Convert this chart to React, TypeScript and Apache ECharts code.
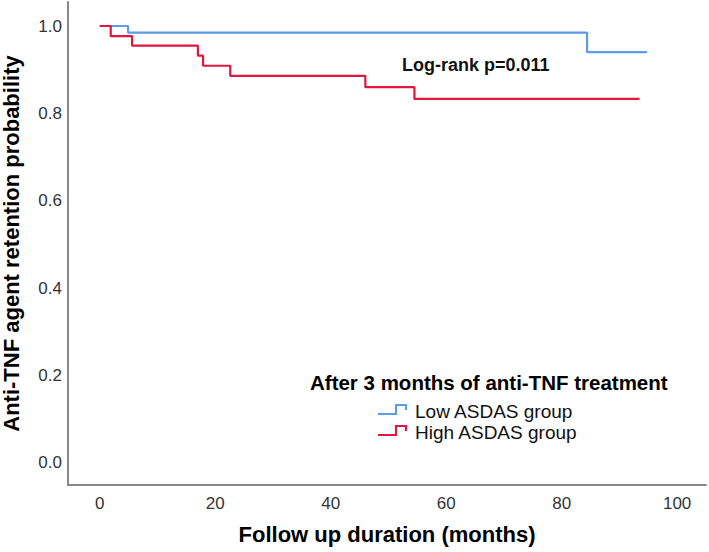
import React, { useEffect, useRef } from "react";
import * as echarts from "echarts";

const lowTimes = [0, 4.9, 84.4, 94.8];
const lowSurv = [1.0, 0.985, 0.94, 0.94];
const highTimes = [0, 1.9, 5.6, 17.0, 17.9, 22.6, 46.0, 54.5, 93.5];
const highSurv = [1.0, 0.977, 0.955, 0.932, 0.909, 0.886, 0.86, 0.833, 0.833];
const xTicks = [0, 20, 40, 60, 80, 100];
const yTicks = [0, 0.2, 0.4, 0.6, 0.8, 1.0];
const seriesNames = ["Low ASDAS group", "High ASDAS group"];
const seriesColors = ["#5B9BE8", "#E0173F"];

const FONT = "'Liberation Sans', Arial, sans-serif";

export default function App() {
  const ref = useRef<HTMLDivElement>(null);
  useEffect(() => {
    if (!ref.current) return;
    const chart = echarts.init(ref.current, undefined, { renderer: "svg" });
    const lowData = lowTimes.map((t, i) => [t, lowSurv[i]]);
    const highData = highTimes.map((t, i) => [t, highSurv[i]]);
    const icon = (x: number, y: number, color: string) => ({
      type: "polyline",
      shape: {
        points: [
          [x, y + 9],
          [x + 18, y + 9],
          [x + 18, y],
          [x + 28, y],
          [x + 28, y + 5],
        ],
      },
      style: { stroke: color, lineWidth: 2.2, fill: null },
    });
    const txt = (x: number, y: number, text: string, font: string, fill: string) => ({
      type: "text",
      x,
      y,
      style: { text, font, fill, textVerticalAlign: "middle", verticalAlign: "middle" },
    });
    chart.setOption({
      animation: false,
      textStyle: { fontFamily: FONT },
      grid: { left: 68, right: 3, top: 2, bottom: 67, outerBoundsMode: "none", containLabel: false },
      xAxis: {
        type: "value",
        min: -5.5,
        max: 105,
        name: "Follow up duration (months)",
        nameLocation: "middle",
        nameGap: 38,
        nameTextStyle: { fontSize: 22, fontWeight: "bold", color: "#000", fontFamily: FONT },
        axisLine: { show: true, onZero: false, lineStyle: { color: "#888", width: 2 } },
        axisTick: { show: false },
        splitLine: { show: false },
        axisLabel: {
          customValues: xTicks,
          fontSize: 17,
          color: "#333",
          margin: 10,
          fontFamily: FONT,
        },
      },
      yAxis: {
        type: "value",
        min: -0.051,
        max: 1.055,
        name: "Anti-TNF agent retention probability",
        nameLocation: "middle",
        nameGap: 46,
        nameTextStyle: { fontSize: 22, fontWeight: "bold", color: "#000", fontFamily: FONT },
        axisLine: { show: true, onZero: false, lineStyle: { color: "#888", width: 2 } },
        axisTick: { show: false },
        splitLine: { show: false },
        axisLabel: {
          customValues: yTicks,
          formatter: (v: number) => v.toFixed(1),
          fontSize: 17,
          color: "#333",
          margin: 6,
          fontFamily: FONT,
        },
      },
      series: [
        {
          name: seriesNames[0],
          type: "line",
          step: "end",
          data: lowData,
          showSymbol: false,
          lineStyle: { color: seriesColors[0], width: 2.2 },
          z: 2,
        },
        {
          name: seriesNames[1],
          type: "line",
          step: "end",
          data: highData,
          showSymbol: false,
          lineStyle: { color: seriesColors[1], width: 2.2 },
          z: 3,
        },
      ],
      graphic: [
        txt(402, 65, "Log-rank p=0.011", `bold 18px ${FONT}`, "#111"),
        txt(310, 382, "After 3 months of anti-TNF treatment", `bold 20.5px ${FONT}`, "#000"),
        icon(378, 405, seriesColors[0]),
        txt(415, 411, seriesNames[0], `19px ${FONT}`, "#111"),
        icon(378, 426, seriesColors[1]),
        txt(415, 432, seriesNames[1], `19px ${FONT}`, "#111"),
      ],
    });
    return () => chart.dispose();
  }, []);
  return <div ref={ref} style={{ width: 709, height: 552, position: "absolute", left: 0, top: 0 }} />;
}
